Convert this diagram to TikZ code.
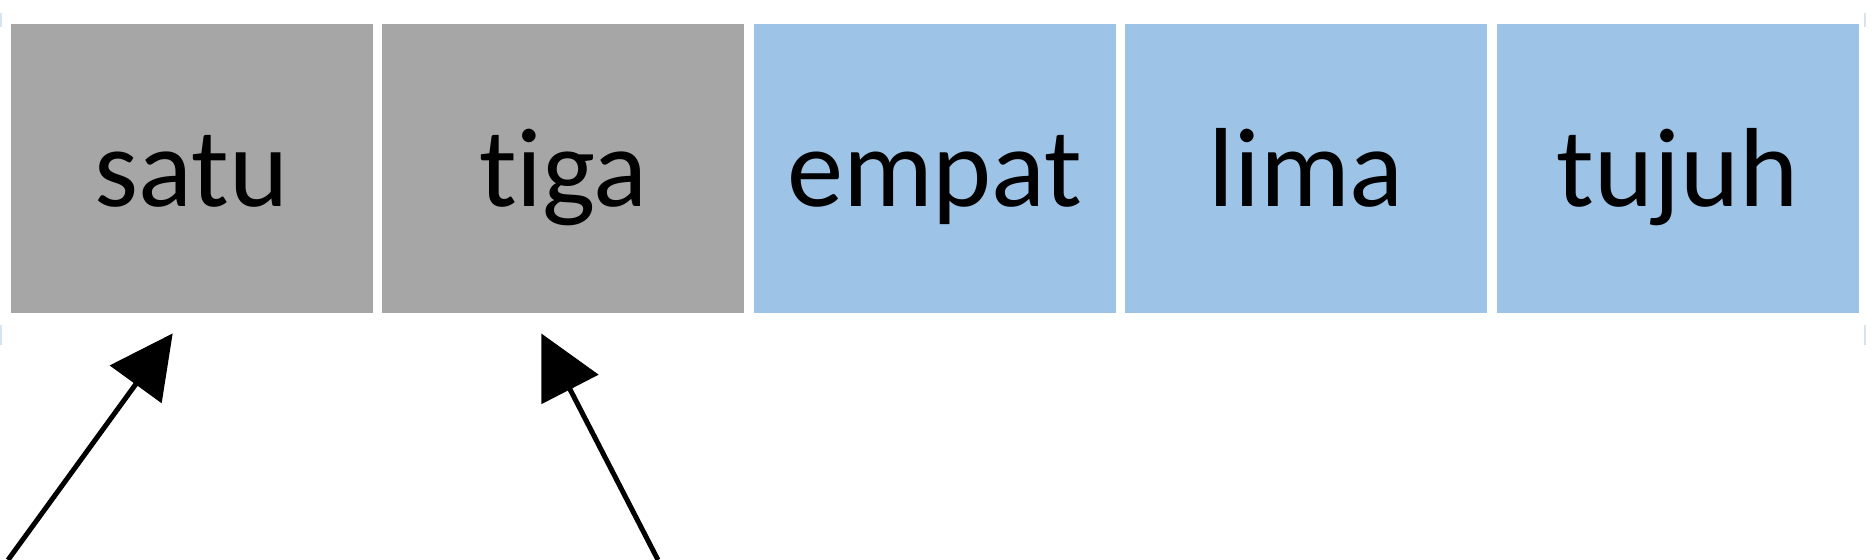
\documentclass[tikz,border=0pt]{standalone}
\usepackage{fontspec}
\setmainfont{Carlito}[Ligatures={NoCommon,NoContextual}]
\usetikzlibrary{arrows.meta}
\definecolor{cellgray}{HTML}{A6A6A6}
\definecolor{cellblue}{HTML}{9DC3E6}
\definecolor{handle}{HTML}{D6E4F2}
\tikzset{
  cell/.style={anchor=north west,inner sep=0pt,minimum width=36.2mm,
    minimum height=28.9mm,text height=7.7mm,text depth=0mm,
    font=\fontsize{32}{38}\selectfont},
  pointer/.style={line width=0.5mm,-{Triangle[length=6.3mm,width=6.3mm]}}
}
\begin{document}
\begin{tikzpicture}[x=0.1mm,y=-0.1mm]
  \useasboundingbox[fill=white] (0,0) rectangle (1872,560);
  \draw[handle,line width=0.25mm] (1,13) -- (1,27) (1,325) -- (1,345);
  \draw[handle,line width=0.25mm] (1865,13) -- (1865,27) (1865,325) -- (1865,345);
  \node[cell,fill=cellgray] (satu) at (10,23) {satu};
  \node[cell,fill=cellgray] (tiga) at (381.5,23) {tiga};
  \node[cell,fill=cellblue] (empat) at (753,23) {empat};
  \node[cell,fill=cellblue] (lima) at (1124.5,23) {lima};
  \node[cell,fill=cellblue] (tujuh) at (1496,23) {tujuh};
  \coordinate (from satu) at (8,560);
  \coordinate (from tiga) at (658,560);
  \draw[pointer] (from satu) -- ([shift={(-19,20)}]satu.south);
  \draw[pointer] (from tiga) -- ([shift={(-22,20)}]tiga.south);
\end{tikzpicture}
\end{document}
